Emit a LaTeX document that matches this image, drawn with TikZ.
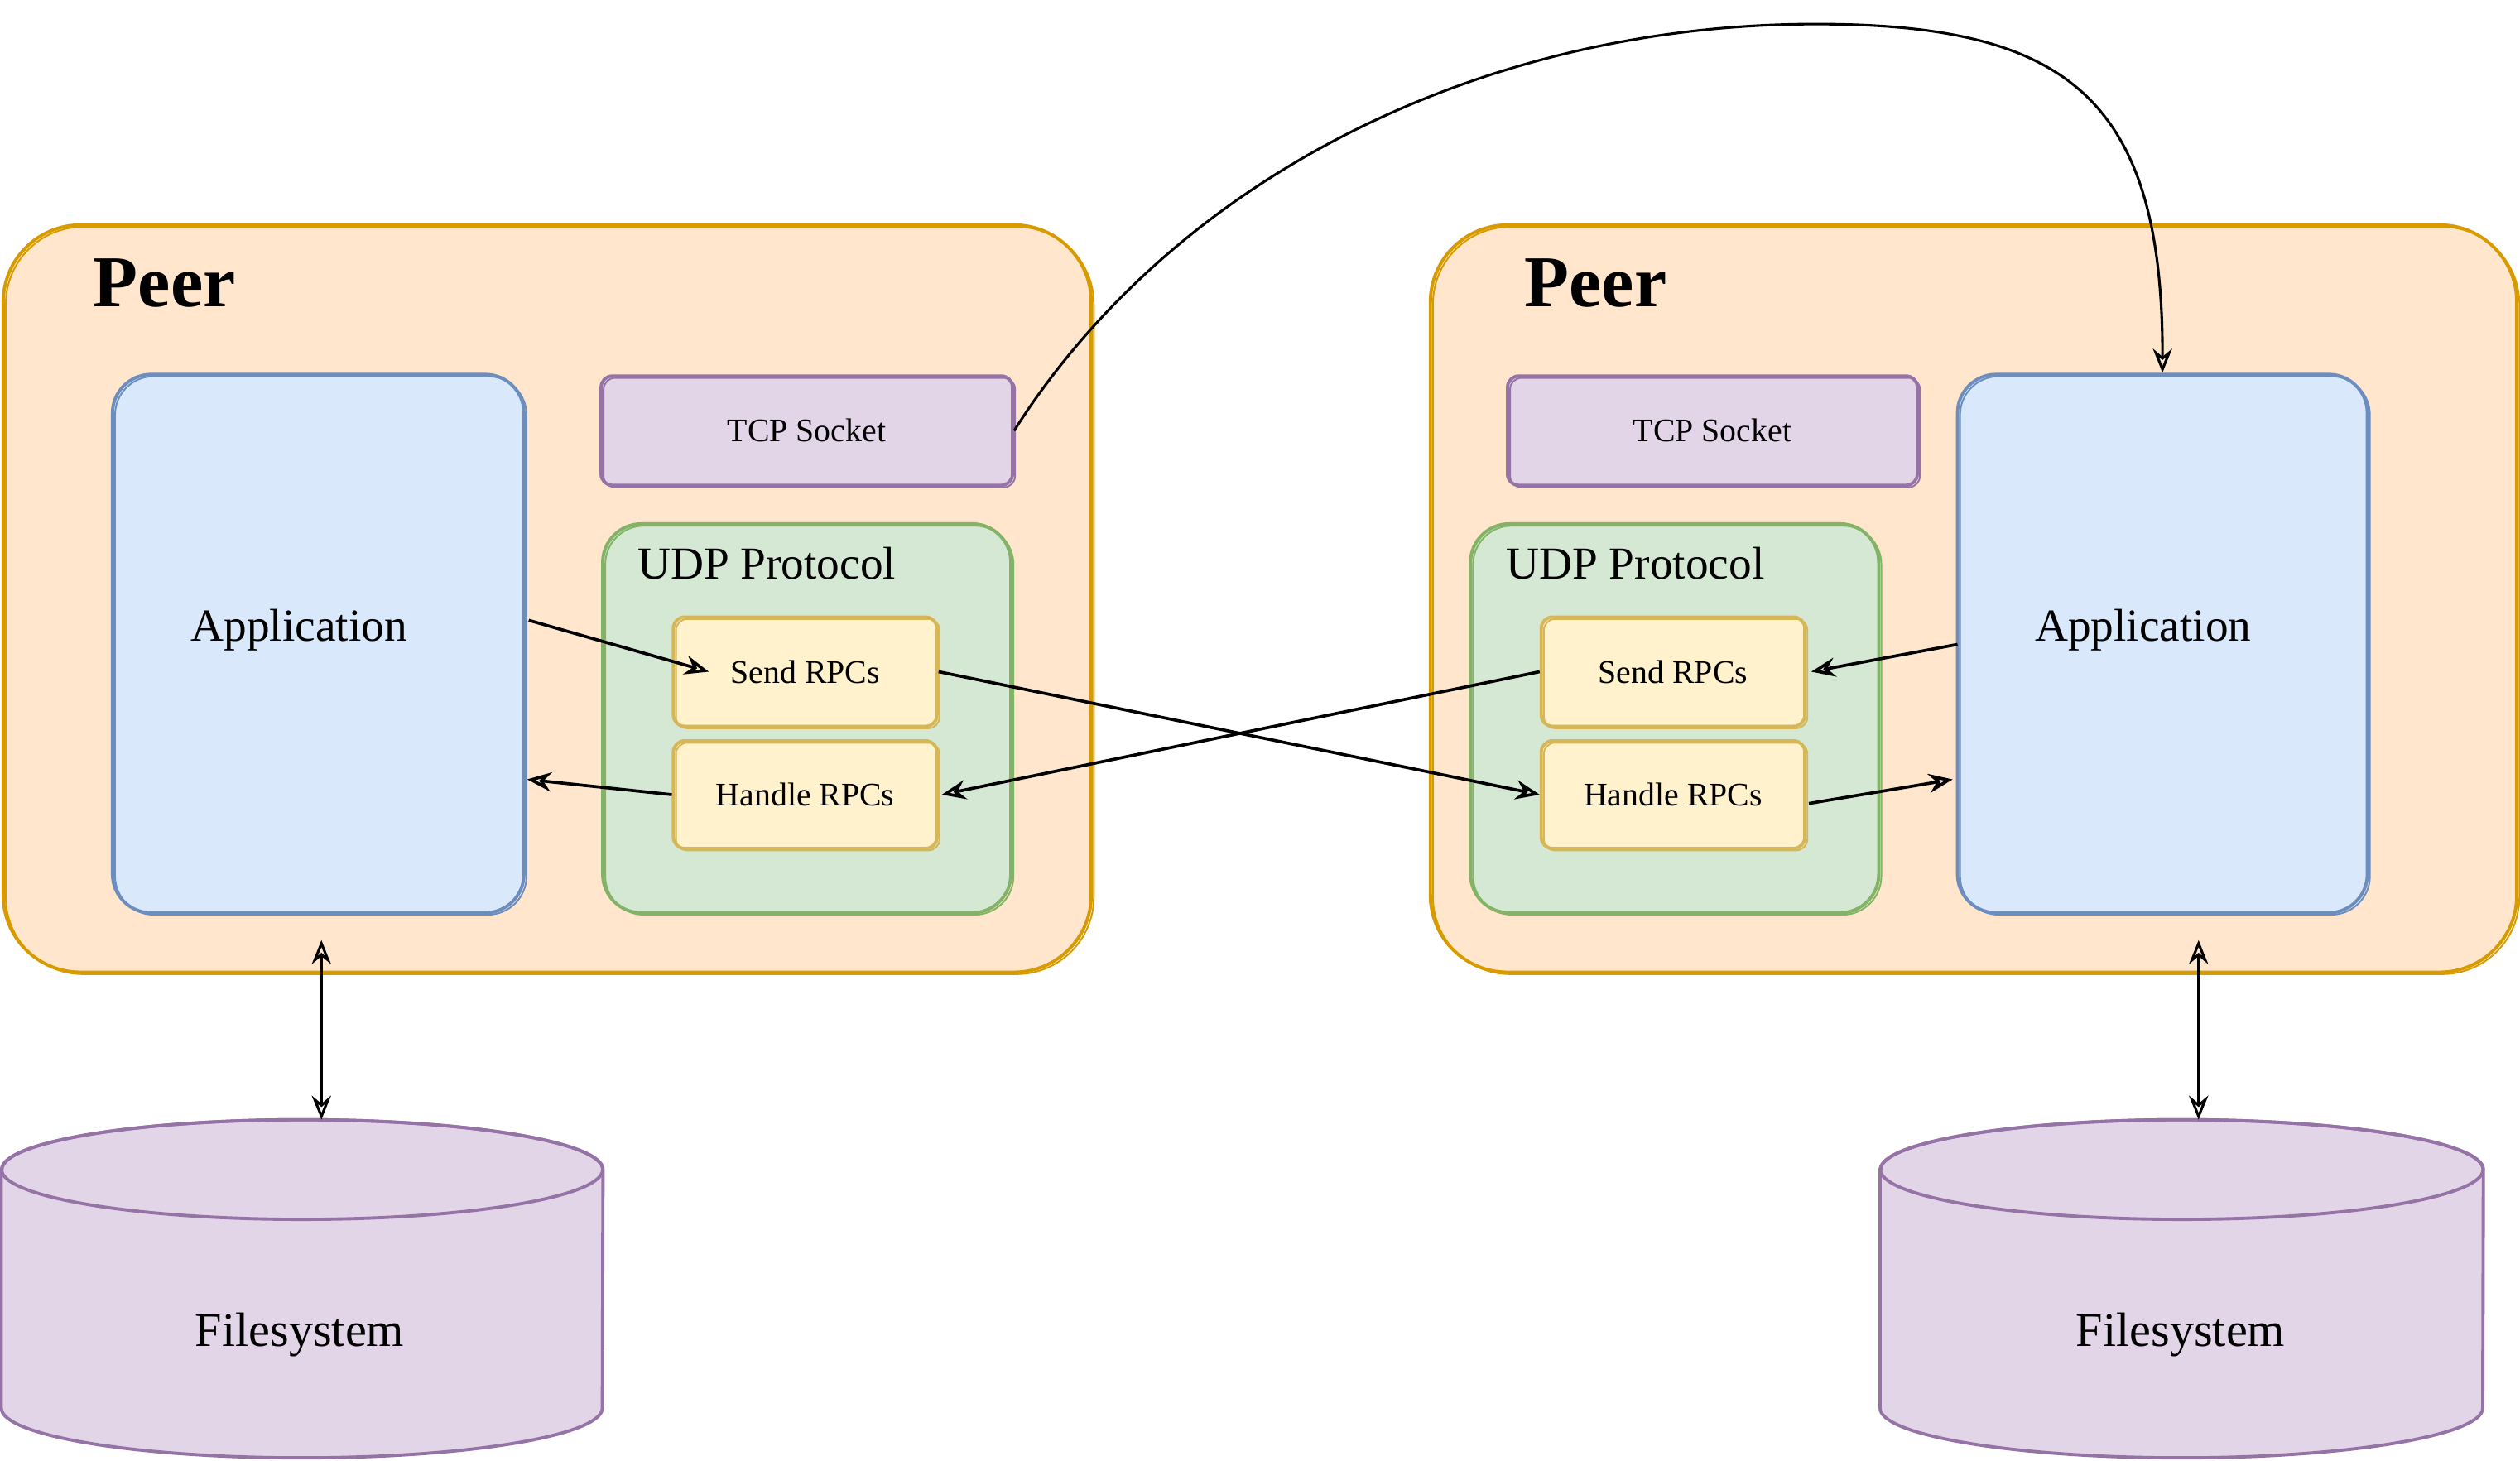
\documentclass[tikz,border=0pt]{standalone}
\usepackage{fontspec}
\setmainfont{Liberation Serif}
\usetikzlibrary{arrows.meta,calc}
\definecolor{orF}{HTML}{FFE6CC}\definecolor{orD}{HTML}{D79B00}
\definecolor{blF}{HTML}{DAE8FC}\definecolor{blD}{HTML}{6C8EBF}
\definecolor{puF}{HTML}{E1D5E7}\definecolor{puD}{HTML}{9673A6}
\definecolor{grF}{HTML}{D5E8D4}\definecolor{grD}{HTML}{82B366}
\definecolor{yeF}{HTML}{FFF2CC}\definecolor{yeD}{HTML}{D6B656}
\tikzset{
  sketch/.style={postaction={draw=#1, line width=1pt, transform canvas={shift={(1.6pt,-1.2pt)}}}},
  box/.style={rectangle, line width=2pt, inner sep=0pt},
  peerbox/.style={box, fill=orF, draw=orD, rounded corners=48pt, sketch=orD},
  appbox/.style={box, fill=blF, draw=blD, rounded corners=24pt, sketch=blD},
  tcpbox/.style={box, fill=puF, draw=puD, rounded corners=7pt, sketch=puD, font=\fontsize{20.5}{24}\selectfont},
  udpbox/.style={box, fill=grF, draw=grD, rounded corners=24pt, sketch=grD},
  rpcbox/.style={box, fill=yeF, draw=yeD, rounded corners=7pt, sketch=yeD, font=\fontsize{20.5}{24}\selectfont},
  fsframe/.style={rectangle, inner sep=0pt},
  fsdraw/.style={fill=puF, draw=puD, line width=2pt},
  peerlbl/.style={inner sep=0pt, anchor=base west, font=\fontsize{45.5}{50}\selectfont\bfseries},
  biglbl/.style={inner sep=0pt, font=\fontsize{28.5}{32}\selectfont},
  mytip/.tip={Stealth[open, length=15pt, width=12pt, inset=5pt]},
  link/.style={line width=1.9pt, -{mytip}},
  dlink/.style={line width=1.6pt, {mytip}-{mytip}},
}
\begin{document}
\begin{tikzpicture}[x=1pt, y=-1pt]
\useasboundingbox (0,0) rectangle (1568,909);

% ---------- left peer ----------
\node[peerbox, minimum width=677, minimum height=465] (peerL) at (340.5,372.5) {};
\node[peerlbl] (peerLlbl) at (58,191) {Peer};
\node[appbox, minimum width=256, minimum height=335] (appL) at (198,400.5) {};
\node[biglbl, anchor=base] (appLlbl) at (186,399) {Application};
\node[tcpbox, minimum width=256, minimum height=68] (tcpL) at (502,268) {TCP Socket};
\node[udpbox, minimum width=254, minimum height=242] (udpL) at (502,447) {};
\node[biglbl, anchor=base west] (udpLlbl) at (396.5,360.5) {UDP Protocol};
\node[rpcbox, minimum width=164, minimum height=68] (sendL) at (501,418) {Send RPCs};
\node[rpcbox, minimum width=164, minimum height=67] (handleL) at (501,494.5) {Handle RPCs};

% ---------- right peer ----------
\node[peerbox, minimum width=676, minimum height=465] (peerR) at (1228,372.5) {};
\node[peerlbl] (peerRlbl) at (948.5,191) {Peer};
\node[tcpbox, minimum width=255, minimum height=68] (tcpR) at (1065.5,268) {TCP Socket};
\node[udpbox, minimum width=254, minimum height=242] (udpR) at (1042,447) {};
\node[biglbl, anchor=base west] (udpRlbl) at (937,360.5) {UDP Protocol};
\node[rpcbox, minimum width=164, minimum height=68] (sendR) at (1041,418) {Send RPCs};
\node[rpcbox, minimum width=164, minimum height=67] (handleR) at (1041,494.5) {Handle RPCs};
\node[appbox, minimum width=255, minimum height=335] (appR) at (1345.5,400.5) {};
\node[biglbl, anchor=base] (appRlbl) at (1333.5,399) {Application};

% ---------- filesystems ----------
\foreach \n/\cx/\w in {fsL/188/374, fsR/1357.5/375}{
  \node[fsframe, minimum width=\w, minimum height=210] (\n) at (\cx,802) {};
  \path[fsdraw] ($(\n.north west)+(0,31)$) -- ($(\n.south west)+(0,-31)$)
     arc[start angle=180, end angle=0, x radius=\w/2, y radius=31]
     -- ($(\n.north east)+(0,31)$)
     arc[start angle=0, end angle=-180, x radius=\w/2, y radius=31] -- cycle;
  \draw[puD, line width=2pt] ($(\n.north)+(0,31)$) ellipse[x radius=\w/2, y radius=31];
}
\node[biglbl, anchor=base, font=\fontsize{30}{34}\selectfont] (fsLlbl) at (186.5,838) {Filesystem};
\node[biglbl, anchor=base, font=\fontsize{30}{34}\selectfont] (fsRlbl) at (1356.8,838) {Filesystem};

% ---------- connectors ----------
\draw[link] ($(appL.east)+(2,-14.5)$) -- ($(sendL.west)+(23,0)$);
\draw[link] (handleL.west) -- ($(appL.east)+(1,84.5)$);
\draw[link] (sendL.east) -- (handleR.west);
\draw[link] (sendR.west) -- ($(handleL.east)+(2,0)$);
\draw[link] ($(appR.west)+(1,0.5)$) -- ($(sendR.east)+(3,0)$);
\draw[link] ($(handleR.east)+(1.5,5.5)$) -- ($(appR.west)+(-2,84.5)$);

\coordinate (peak) at (1130,15);
\draw[link, line width=1.6pt] (tcpL.east) .. controls (730,112) and (920,15) .. (peak)
   .. controls (1285,15) and (1346,60) .. (appR.north);

\draw[dlink] ($(appL.south)+(2,16)$) -- ($(fsL.north)+(12,0)$);
\draw[dlink] ($(appR.south)+(22.5,16)$) -- ($(fsR.north)+(10.5,0)$);
\end{tikzpicture}
\end{document}
